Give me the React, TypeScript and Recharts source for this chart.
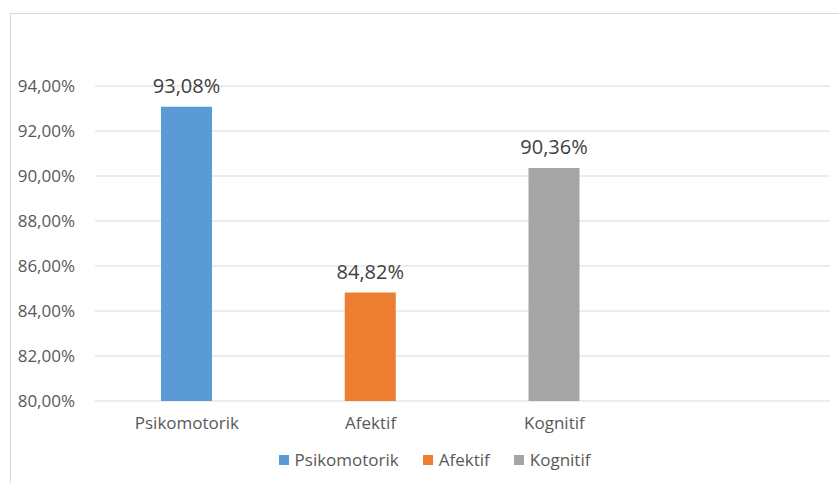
import { BarChart, Bar, XAxis, YAxis, CartesianGrid, Cell, LabelList, Legend } from "recharts";

const categories = ["Psikomotorik", "Afektif", "Kognitif", ""];
const values = [93.08, 84.82, 90.36, null];
const colors = ["#5B9BD5", "#ED7D31", "#A5A5A5", "#FFFFFF"];
const yTicks = [80, 82, 84, 86, 88, 90, 92, 94];

const data = categories.map((name, i) => ({ name, value: values[i] }));

const pct = (v: number) => v.toFixed(2).replace(".", ",") + "%";

const FONT = "'Open Sans', sans-serif";

function ChartLegend() {
  return (
    <div style={{ display: "flex", justifyContent: "center", gap: 24, fontFamily: FONT, fontSize: 17, color: "#595959" }}>
      {categories.slice(0, 3).map((c, i) => (
        <div key={c} style={{ display: "flex", alignItems: "center" }}>
          <span style={{ width: 10, height: 10, background: colors[i], marginRight: 6, display: "inline-block" }} />
          {c}
        </div>
      ))}
    </div>
  );
}

export default function App() {
  return (
    <div style={{ position: "absolute", left: 0, top: 0, width: 839, height: 483, background: "#fff", overflow: "hidden" }}>
      <div
        style={{
          position: "absolute",
          left: 10,
          top: 13,
          width: 900,
          height: 500,
          borderLeft: "1px solid #d9d9d9",
          borderTop: "1px solid #d9d9d9",
        }}
      />
      <BarChart width={839} height={483} data={data} margin={{ top: 86, right: 9, left: 0, bottom: 0 }}>
        <CartesianGrid vertical={false} stroke="#d9d9d9" />
        <XAxis
          dataKey="name"
          axisLine={false}
          tickLine={false}
          height={59}
          tickMargin={10}
          tick={{ fill: "#595959", fontSize: 17, fontFamily: FONT }}
        />
        <YAxis
          domain={[80, 94]}
          ticks={yTicks}
          width={95}
          axisLine={false}
          tickLine={false}
          tickMargin={14}
          tickFormatter={pct}
          tick={{ fill: "#595959", fontSize: 17, fontFamily: FONT }}
        />
        <Legend
          verticalAlign="bottom"
          wrapperStyle={{ left: 15, width: 839, bottom: 12 }}
          content={() => <ChartLegend />}
        />
        <Bar dataKey="value" barSize={51} isAnimationActive={false}>
          {data.map((d, i) => (
            <Cell key={i} fill={colors[i]} />
          ))}
          <LabelList
            dataKey="value"
            position="top"
            offset={14}
            formatter={(v: any) => (v == null ? "" : pct(Number(v)))}
            style={{ fill: "#404040", fontSize: 20, fontFamily: FONT }}
          />
        </Bar>
      </BarChart>
    </div>
  );
}
